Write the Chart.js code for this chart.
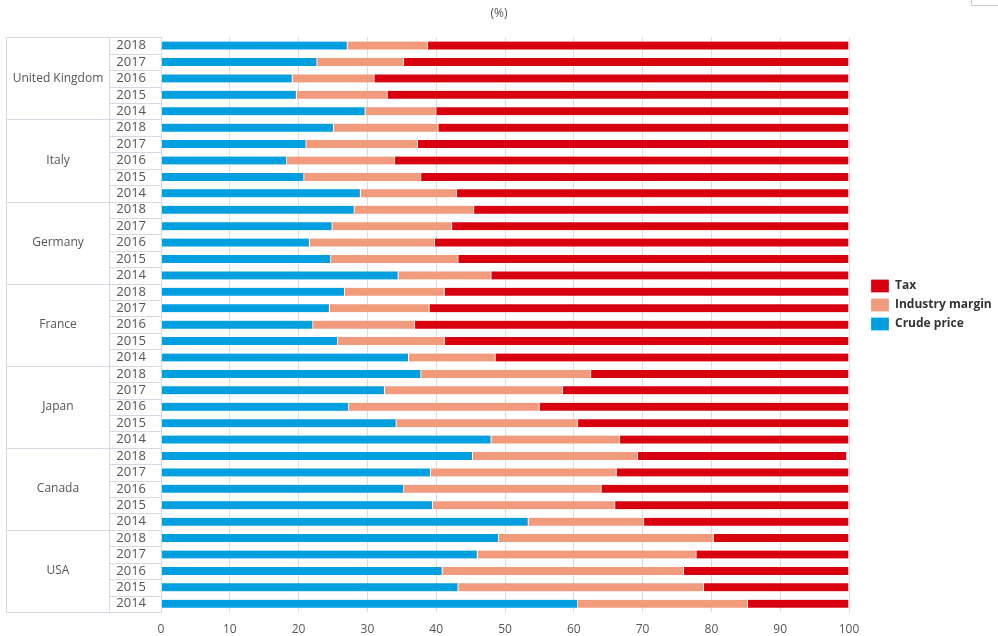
<!DOCTYPE html>
<html>
<head>
<meta charset="utf-8">
<style>
  body {
    margin: 0;
    padding: 0;
    background: #ffffff;
  }
  #wrap {
    position: relative;
    width: 998px;
    height: 636px;
  }
</style>
</head>
<body>
  <div id="wrap">
    <canvas id="priceChart"></canvas>
  </div>

  <script src="https://cdn.jsdelivr.net/npm/chart.js"></script>
  <script>
    // Chart data (% of pump price)
    const countries = ["United Kingdom", "Italy", "Germany", "France", "Japan", "Canada", "USA"];
    const years = ["2018", "2017", "2016", "2015", "2014"];

    // one value per row: each country, years 2018 -> 2014
    const crudePrice = [
      27.1, 22.7, 19.1, 19.7, 29.7,
      25.1, 21.1, 18.3, 20.8, 29.0,
      28.1, 24.9, 21.6, 24.7, 34.5,
      26.7, 24.5, 22.1, 25.7, 36.0,
      37.8, 32.5, 27.3, 34.2, 48.0,
      45.3, 39.2, 35.3, 39.5, 53.4,
      49.1, 46.0, 40.9, 43.2, 60.6
    ];
    const industryMargin = [
      11.7, 12.6, 11.9, 13.2, 10.3,
      15.2, 16.2, 15.7, 17.0, 14.0,
      17.4, 17.4, 18.2, 18.5, 13.5,
      14.5, 14.5, 14.8, 15.5, 12.6,
      24.7, 25.9, 27.7, 26.4, 18.7,
      24.0, 27.0, 28.7, 26.5, 16.8,
      31.2, 31.8, 35.1, 35.7, 24.7
    ];
    const tax = [
      61.2, 64.7, 69.0, 67.1, 60.0,
      59.7, 62.7, 66.0, 62.2, 57.0,
      54.5, 57.7, 60.2, 56.8, 52.0,
      58.8, 61.0, 63.1, 58.8, 51.4,
      37.5, 41.6, 45.0, 39.4, 33.3,
      30.4, 33.8, 36.0, 34.0, 29.8,
      19.7, 22.2, 24.0, 21.1, 14.7
    ];

    const rowLabels = [];
    countries.forEach(() => years.forEach(y => rowLabels.push(y)));

    const tableColor = "#d3dae3";
    const textColor = "#555555";

    Chart.defaults.font.family = "'Open Sans', sans-serif";
    Chart.defaults.color = textColor;

    // fixed legend width + nudge it to the right spot
    const legendPlacement = {
      id: "legendPlacement",
      beforeInit(chart) {
        const origFit = chart.legend.fit;
        chart.legend.fit = function () {
          origFit.bind(chart.legend)();
          this.width = 149;
        };
      },
      afterLayout(chart) {
        const lg = chart.legend;
        lg.left += 16;
        lg.right += 16;
        lg.top -= 13;
        lg.bottom -= 13;
      }
    };

    // country / year table on the left
    const groupTable = {
      id: "groupTable",
      afterDraw(chart) {
        const ctx = chart.ctx;
        const yScale = chart.scales.y;
        const area = chart.chartArea;
        const rowH = (yScale.bottom - yScale.top) / rowLabels.length;
        const outerL = 6.5, splitX = 109.5, innerR = Math.round(area.left) + 0.5;

        ctx.save();
        ctx.strokeStyle = tableColor;
        ctx.lineWidth = 1;
        ctx.beginPath();
        ctx.rect(outerL, Math.round(yScale.top) + 0.5, innerR - outerL, Math.round(yScale.bottom - yScale.top));
        ctx.moveTo(splitX, yScale.top);
        ctx.lineTo(splitX, yScale.bottom);
        for (let i = 1; i < rowLabels.length; i++) {
          const y = Math.round(yScale.getPixelForValue(i) - rowH / 2) + 0.5;
          const startX = (i % years.length === 0) ? outerL : splitX;
          ctx.moveTo(startX, y);
          ctx.lineTo(innerR, y);
        }
        ctx.stroke();

        ctx.fillStyle = textColor;
        ctx.font = "12px 'Open Sans', sans-serif";
        ctx.textAlign = "center";
        ctx.textBaseline = "middle";
        countries.forEach((c, k) => {
          const mid = yScale.getPixelForValue(k * years.length + 2);
          ctx.fillText(c, (outerL + splitX) / 2, mid);
        });

        // little box corner in the top right
        ctx.strokeStyle = "#cccccc";
        ctx.beginPath();
        ctx.moveTo(971.5, 0);
        ctx.lineTo(971.5, 5.5);
        ctx.lineTo(998, 5.5);
        ctx.stroke();
        ctx.restore();
      }
    };

    const segBorder = { top: 0, bottom: 0, left: 0, right: 1 };

    new Chart(document.getElementById("priceChart"), {
      type: "bar",
      data: {
        labels: rowLabels,
        datasets: [
          {
            label: "Crude price",
            data: crudePrice,
            backgroundColor: "#009fe0",
            borderColor: "#ffffff",
            borderWidth: segBorder,
            borderSkipped: false,
            barThickness: 8
          },
          {
            label: "Industry margin",
            data: industryMargin,
            backgroundColor: "#f19a7c",
            borderColor: "#ffffff",
            borderWidth: segBorder,
            borderSkipped: false,
            barThickness: 8
          },
          {
            label: "Tax",
            data: tax,
            backgroundColor: "#d8000e",
            borderColor: "#ffffff",
            borderWidth: segBorder,
            borderSkipped: false,
            barThickness: 8
          }
        ]
      },
      options: {
        indexAxis: "y",
        responsive: true,
        maintainAspectRatio: false,
        animation: false,
        layout: { padding: 0 },
        scales: {
          x: {
            stacked: true,
            min: 0,
            max: 100,
            afterFit(scale) { scale.height = 24; },
            ticks: { stepSize: 10, padding: 10, color: textColor, font: { size: 12 } },
            grid: { color: "#dcdcdc", drawTicks: false },
            border: { display: false }
          },
          y: {
            stacked: true,
            afterFit(scale) { scale.width = 161; },
            ticks: { padding: 15, color: textColor, font: { size: 13 }, autoSkip: false },
            grid: { display: false, drawTicks: false },
            border: { display: false }
          }
        },
        plugins: {
          title: {
            display: true,
            text: "(%)",
            color: textColor,
            font: { size: 12, weight: "normal" },
            padding: { top: 6, bottom: 17 }
          },
          legend: {
            position: "right",
            reverse: true,
            labels: {
              boxWidth: 18,
              boxHeight: 13,
              padding: 6,
              color: "#333333",
              font: { size: 12, weight: "bold" }
            }
          },
          tooltip: { enabled: false }
        }
      },
      plugins: [legendPlacement, groupTable]
    });
  </script>
</body>
</html>
